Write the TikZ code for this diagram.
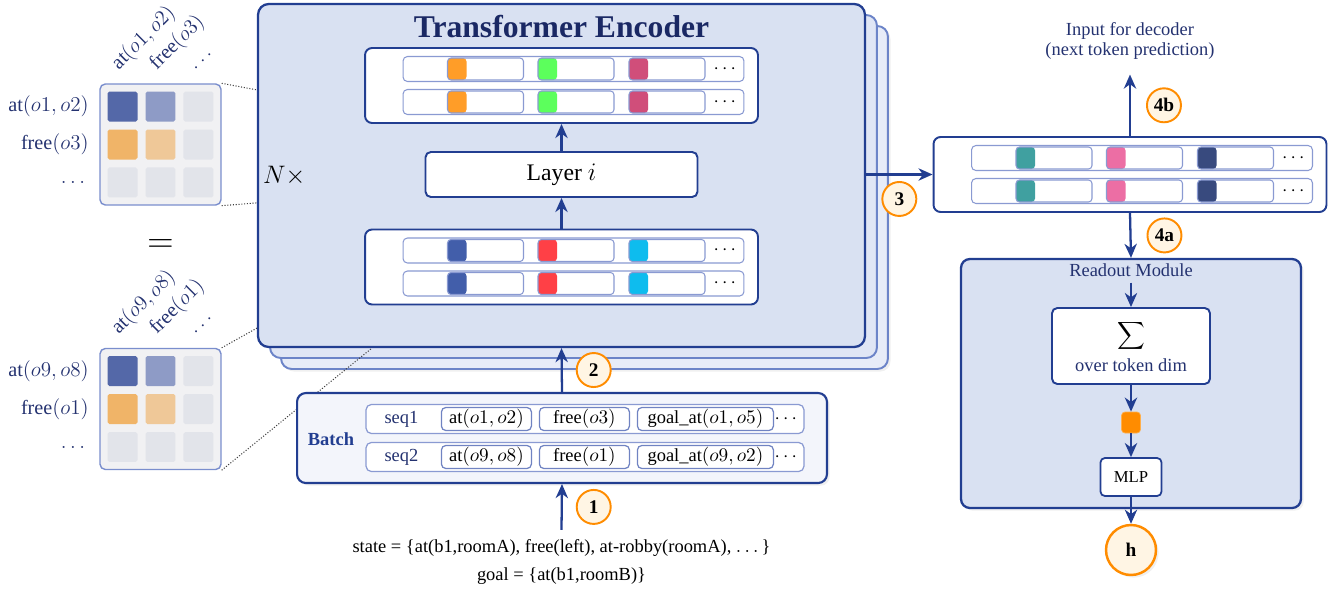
\documentclass[tikz,border=0pt]{standalone}
\usepackage{amsmath}
\usepackage{fontspec}
\setmainfont{Liberation Serif}
\usetikzlibrary{matrix,positioning,calc,arrows.meta,shadows}
\definecolor{myline}{RGB}{34,62,145}
\definecolor{mytitle}{RGB}{26,40,100}
\definecolor{mytext}{RGB}{36,50,112}
\definecolor{myfill}{RGB}{217,225,242}
\definecolor{myfillb}{RGB}{224,230,245}
\definecolor{myfillc}{RGB}{231,236,248}
\definecolor{myback}{RGB}{108,132,200}
\definecolor{myrow}{RGB}{138,154,210}
\definecolor{mybatch}{RGB}{243,245,251}
\definecolor{myorange}{RGB}{255,140,0}
\definecolor{mycream}{RGB}{255,245,228}
% token colours
\definecolor{tkorange}{RGB}{255,157,40}
\definecolor{tkgreen}{RGB}{92,255,92}
\definecolor{tkcrimson}{RGB}{208,78,122}
\definecolor{tkblue}{RGB}{66,94,170}
\definecolor{tkred}{RGB}{255,64,70}
\definecolor{tkcyan}{RGB}{14,188,238}
\definecolor{tkteal}{RGB}{64,160,160}
\definecolor{tkpink}{RGB}{236,110,164}
\definecolor{tknavy}{RGB}{56,74,126}
% heat map colours
\definecolor{hdark}{RGB}{84,104,168}
\definecolor{hlight}{RGB}{142,155,198}
\definecolor{hgray}{RGB}{226,228,234}
\definecolor{horange}{RGB}{240,180,104}
\definecolor{hpeach}{RGB}{239,200,152}
\definecolor{hbg}{RGB}{241,241,243}
\definecolor{hframe}{RGB}{122,142,205}

\begin{document}
\begin{tikzpicture}[x=0.02cm,y=-0.02cm,
  every node/.style={font=\fontsize{10.5}{12.5}\selectfont},
  arr/.style={line width=1.3pt,draw=myline,-{Stealth[length=8pt,width=7pt,inset=2.5pt]}},
  softshadow/.style={drop shadow={opacity=0.12,shadow xshift=1.5pt,shadow yshift=-1.5pt}},
  encbox/.style={draw=myline,line width=1.3pt,fill=myfill,rounded corners=6pt,minimum width=12.14cm,minimum height=6.86cm},
  backbox/.style={draw=myback,line width=1.1pt,fill=#1,rounded corners=6pt,minimum width=12.14cm,minimum height=6.86cm},
  seqbox/.style={draw=myline,line width=1.1pt,fill=white,rounded corners=4pt,minimum width=7.86cm,minimum height=1.5cm},
  tokrow/.style={draw=myrow,line width=0.6pt,fill=white,rounded corners=2.5pt,minimum width=6.82cm,minimum height=0.5cm},
  tok/.style={draw=myrow,line width=0.6pt,fill=white,rounded corners=2pt,minimum width=1.52cm,minimum height=0.44cm,inner sep=0pt,
    path picture={\fill[#1] (path picture bounding box.south west) rectangle ([xshift=0.38cm]path picture bounding box.north west);}},
  layerbox/.style={draw=myline,line width=1.1pt,fill=white,rounded corners=3pt,minimum width=5.44cm,minimum height=0.9cm,font=\fontsize{13.5}{15}\selectfont},
  batchbox/.style={draw=myline,line width=1.2pt,fill=mybatch,rounded corners=5pt,minimum width=10.6cm,minimum height=1.8cm,softshadow},
  brow/.style={draw=myrow,line width=0.7pt,fill=white,rounded corners=3pt,minimum width=8.76cm,minimum height=0.58cm},
  btok/.style={draw=myrow!75!myline,line width=0.7pt,fill=white,rounded corners=2.5pt,minimum height=0.46cm,inner sep=1pt},
  hmat/.style={matrix of nodes,nodes in empty cells,row sep=0.16cm,column sep=0.16cm,
    draw=hframe,line width=0.8pt,fill=hbg,rounded corners=3pt,inner sep=0.15cm,
    nodes={fill=hgray,draw=none,rounded corners=1pt,minimum size=0.6cm,inner sep=0pt}},
  hlab/.style={text=mytext,inner sep=1pt,font=\fontsize{11.5}{13}\selectfont},
  collab/.style={hlab,rotate=45,anchor=base west},
  numc/.style={circle,draw=myorange,line width=1.1pt,fill=mycream,minimum size=0.68cm,inner sep=0pt,font=\fontsize{11}{12}\bfseries\selectfont},
  readbox/.style={draw=myline,line width=1.3pt,fill=myfill,rounded corners=5pt,minimum width=6.8cm,minimum height=4.98cm,softshadow},
  sumbox/.style={draw=myline,line width=1.1pt,fill=white,rounded corners=3pt,align=center,minimum width=3.16cm,minimum height=1.52cm},
  mlpbox/.style={draw=myline,line width=1pt,fill=white,rounded corners=2.5pt,minimum width=1.22cm,minimum height=0.76cm,font=\fontsize{9.5}{11}\selectfont},
  hnode/.style={circle,draw=myorange,line width=1.4pt,fill=mycream,minimum size=1cm,inner sep=0pt,font=\fontsize{11}{12}\bfseries\selectfont},
  zoomline/.style={densely dotted,line width=0.6pt,black!75}]

  \useasboundingbox (0,0) rectangle (1340,589);

  % stacked encoder layers
  \node[backbox=myfillc,softshadow] (enc3) at (584.5,197.5) {};
  \node[backbox=myfillb] (enc2) at (573.5,186.5) {};
  \node[encbox] (enc) at (561.5,175.5) {};

  \node[font=\fontsize{18}{20}\bfseries\selectfont,text=mytitle] (title) at (561.5,27) {Transformer Encoder};
  \node[font=\fontsize{13.5}{15}\selectfont,inner sep=1pt,anchor=west] (nx) at (261,176) {$N\times$};

  \node[seqbox] (encout) at (561.5,85.5) {};
  \node[layerbox] (layer) at (561.5,174.5) {Layer $i$};
  \node[seqbox] (encin) at (561.5,267) {};
  \node[seqbox] (outbox) at (1130,174.5) {};

  % token rows
  \foreach \bx/\ca/\cb/\cc in {encout/tkorange/tkgreen/tkcrimson,encin/tkblue/tkred/tkcyan,outbox/tkteal/tkpink/tknavy}{
    \foreach \r/\dy in {1/-16.5,2/16.5}{
      \node[tokrow] (\bx-\r) at ($(\bx.center)+(12,\dy)$) {};
      \node[tok=\ca] (\bx-\r-1) at ($(\bx-\r.west)+(83,0)$) {};
      \node[tok=\cb] (\bx-\r-2) at ($(\bx-\r.west)+(173.5,0)$) {};
      \node[tok=\cc] (\bx-\r-3) at ($(\bx-\r.west)+(264.5,0)$) {};
      \node (\bx-\r-d) at ($(\bx-\r.east)+(-18,0)$) {$\cdots$};
    }
  }

  \draw[arr] (encin) -- (layer);
  \draw[arr] (layer) -- (encout);

  % heat maps
  \matrix[hmat] (heat1) at (160.5,144.5) {
    |[fill=hdark]| & |[fill=hlight]| & \\
    |[fill=horange]| & |[fill=hpeach]| & \\
    & & \\
  };
  \node[hlab,left=0.32cm of heat1-1-1] (h1r1) {at$(o1,o2)$};
  \node[hlab,left=0.32cm of heat1-2-1] (h1r2) {free$(o3)$};
  \node[hlab,left=0.32cm of heat1-3-1] (h1r3) {$\dots$};
  \node[collab] (h1c1) at ([xshift=-0.1cm,yshift=0.38cm]heat1-1-1.north) {at$(o1,o2)$};
  \node[collab] (h1c2) at ([xshift=-0.1cm,yshift=0.38cm]heat1-1-2.north) {free$(o3)$};
  \node[collab] (h1c3) at ([xshift=-0.1cm,yshift=0.38cm]heat1-1-3.north) {$\dots$};

  \node[font=\fontsize{21}{24}\selectfont] (eq) at (160.5,246) {$=$};

  \matrix[hmat] (heat2) at (160.5,409) {
    |[fill=hdark]| & |[fill=hlight]| & \\
    |[fill=horange]| & |[fill=hpeach]| & \\
    & & \\
  };
  \node[hlab,left=0.32cm of heat2-1-1] (h2r1) {at$(o9,o8)$};
  \node[hlab,left=0.32cm of heat2-2-1] (h2r2) {free$(o1)$};
  \node[hlab,left=0.32cm of heat2-3-1] (h2r3) {$\dots$};
  \node[collab] (h2c1) at ([xshift=-0.1cm,yshift=0.38cm]heat2-1-1.north) {at$(o9,o8)$};
  \node[collab] (h2c2) at ([xshift=-0.1cm,yshift=0.38cm]heat2-1-2.north) {free$(o1)$};
  \node[collab] (h2c3) at ([xshift=-0.1cm,yshift=0.38cm]heat2-1-3.north) {$\dots$};

  % dotted lines from heat maps
  \coordinate (z1) at ($(enc.north west)+(0,87)$);
  \coordinate (z2) at ($(enc.north west)+(0,200)$);
  \coordinate (z3) at ($(enc.south west)+(0,-20)$);
  \coordinate (z4) at ($(enc.south west)+(115,0)$);
  \draw[zoomline] (heat1.north east) -- (z1) (heat1.south east) -- (z2)
    (heat2.north east) -- (z3) (heat2.south east) -- (z4);

  % batch
  \node[batchbox] (batch) at (562,438) {};
  \node[font=\fontsize{10.5}{12}\bfseries\selectfont,text=myline] (batchlab) at (331,439) {Batch};
  \foreach \r/\dy/\sq/\ta/\tb/\tc in {1/-19/seq1/{at$(o1,o2)$}/{free$(o3)$}/{goal\_at$(o1,o5)$},
                                      2/19/seq2/{at$(o9,o8)$}/{free$(o1)$}/{goal\_at$(o9,o2)$}}{
    \node[brow] (batch-\r) at ($(batch.center)+(23,\dy)$) {};
    \node[text=mytext] (batch-\r-s) at ($(batch-\r.west)+(36,0)$) {\sq};
    \node[btok,minimum width=1.8cm] (batch-\r-1) at ($(batch-\r.west)+(121,0)$) {\ta};
    \node[btok,minimum width=1.8cm] (batch-\r-2) at ($(batch-\r.west)+(219,0)$) {\tb};
    \node[btok,minimum width=2.72cm] (batch-\r-3) at ($(batch-\r.west)+(340,0)$) {\tc};
    \node (batch-\r-d) at ($(batch-\r.west)+(422,0)$) {$\cdots$};
  }

  \node (state) at (561.5,548) {state = \{at(b1,roomA), free(left), at-robby(roomA), $\dots$\}};
  \node (goal) at (561.5,576) {goal = \{at(b1,roomB)\}};

  \draw[arr] ([yshift=2pt]state.north) -- node[numc,right=0.28cm] (n1) {1} (batch.south);
  \draw[arr] (batch.north) -- node[numc,right=0.28cm] (n2) {2} (enc.south);

  % output side
  \node[text=mytext,align=center,font=\fontsize{10.5}{11.5}\selectfont] (dec) at (1130,41) {Input for decoder\\(next token prediction)};
  \draw[arr] (enc.east |- outbox.west) -- node[numc,below=0.13cm] (n3) {3} (outbox.west);
  \draw[arr] (outbox.north) -- node[numc,right=0.32cm] (n4b) {4b} ([yshift=-5pt]dec.south);

  % readout
  \node[readbox] (readout) at (1131,383.5) {};
  \node[text=mytext] (rtitle) at (1131,270) {Readout Module};
  \node[sumbox] (sum) at (1131,346) {$\displaystyle\sum$\\[3pt]{\color{mytext}over token dim}};
  \node[fill=myorange,draw=myorange!70,rounded corners=2pt,minimum width=0.38cm,minimum height=0.42cm,inner sep=0pt] (pool) at (1131,422.5) {};
  \node[mlpbox] (mlp) at (1131,477) {MLP};
  \node[hnode,softshadow] (h) at (1131,550) {h};

  \draw[arr] (outbox.south) -- node[numc,right=0.32cm] (n4a) {4a} (readout.north);
  \draw[arr] (rtitle) -- (sum);
  \draw[arr] (sum) -- (pool);
  \draw[arr] (pool) -- (mlp);
  \draw[arr] (mlp) -- (h);

\end{tikzpicture}
\end{document}
